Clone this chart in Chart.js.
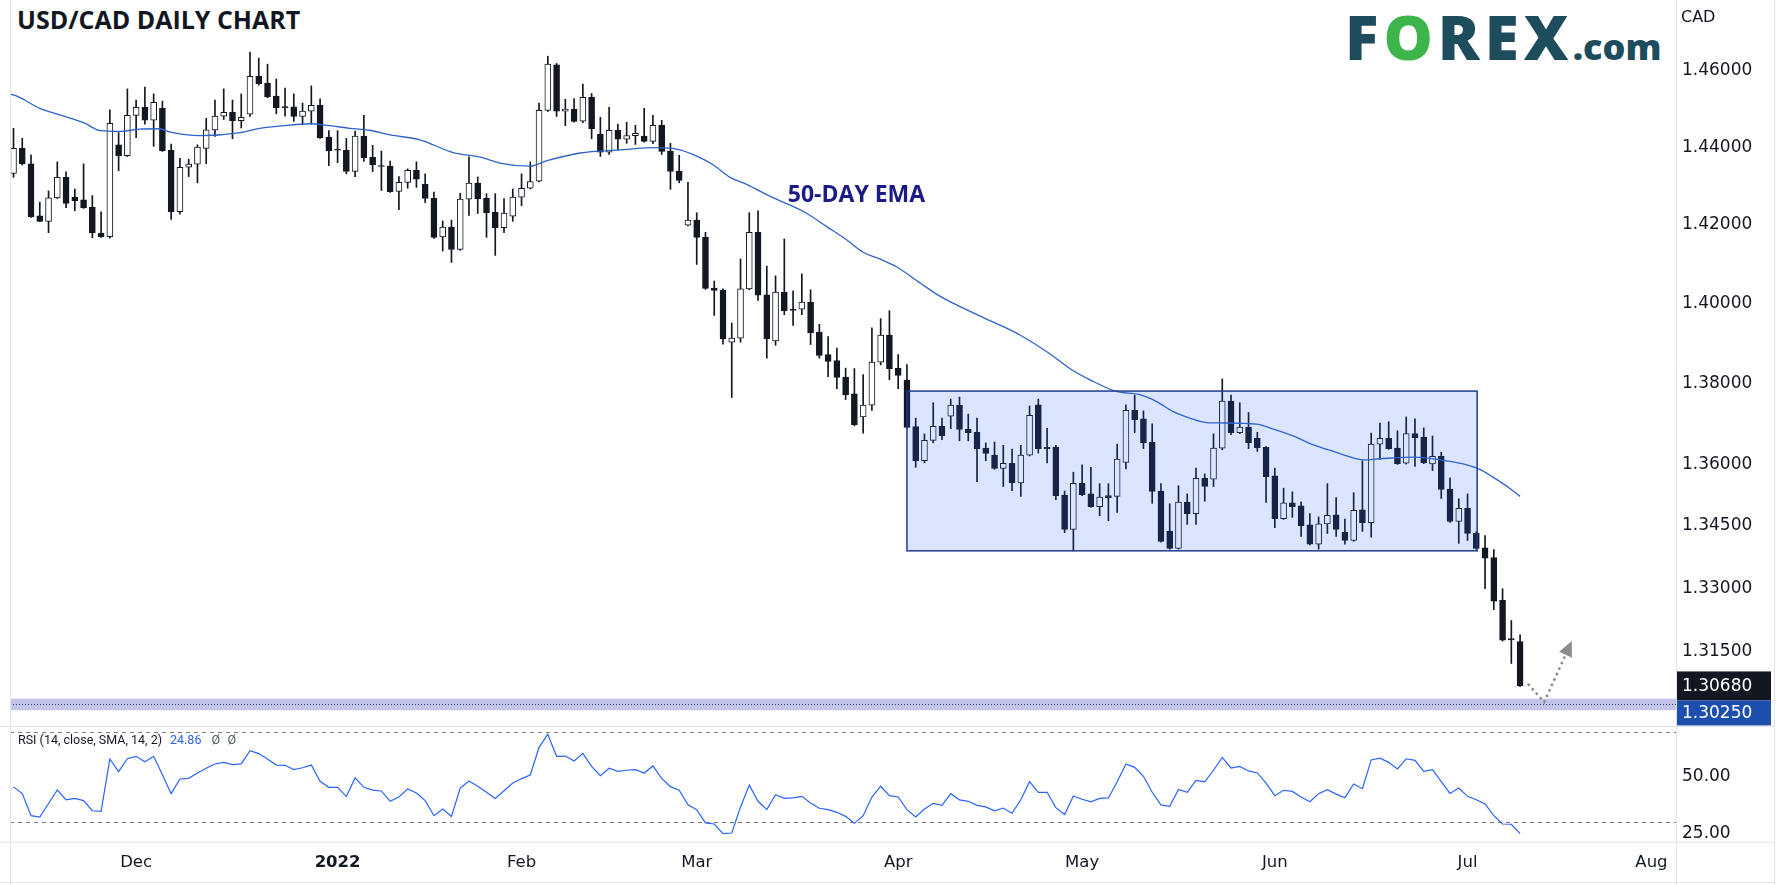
<!DOCTYPE html>
<html lang="en">
<head>
<meta charset="UTF-8">
<title>USD/CAD Daily Chart</title>
<script src="https://cdn.jsdelivr.net/npm/chart.js@4.4.1/dist/chart.umd.min.js"></script>
<style>
    body {
        margin: 0;
        background: #ffffff;
        width: 1783px;
        height: 885px;
        overflow: hidden;
        position: relative;
        font-family: 'DejaVu Sans', sans-serif;
    }
    #mainCanvas { position: absolute; left: 0; top: 0; }
    #rsiCanvas { position: absolute; left: 0; top: 726px; }
    .title {
        position: absolute;
        left: 17px;
        top: 7px;
        font: 700 25px/25px 'Open Sans', sans-serif;
        color: #131722;
    }
    .logo {
        position: absolute;
        left: 1345px;
        top: 5px;
        display: flex;
        align-items: baseline;
        font-family: 'Open Sans', sans-serif;
        font-weight: 800;
        color: #1d4c5c;
        line-height: 1;
    }
    .logo .big { font-size: 62px; letter-spacing: 5px; }
    .logo .green { color: #3cb54a; }
    .logo .com { font-size: 36px; margin-left: -1px; }
</style>
</head>
<body>

<div class="title">USD/CAD DAILY CHART</div>
<div class="logo"><span class="big">F</span><span class="big green">O</span><span class="big">REX</span><span class="com">.com</span></div>

<canvas id="mainCanvas" width="1783" height="726"></canvas>
<canvas id="rsiCanvas" width="1783" height="159"></canvas>

<script>
// daily bars, Nov 11 2021 -> Jul 11 2022 (index 0 = Nov 11)
const opens = [
    1.4332, 1.4397, 1.4357, 1.4223, 1.4209, 1.4269, 1.4322, 1.4271, 1.4264, 1.4245,
    1.4179, 1.4170, 1.4406, 1.4378, 1.4483, 1.4504, 1.4470, 1.4501, 1.4392, 1.4234,
    1.4348, 1.4356, 1.4397, 1.4445, 1.4481, 1.4491, 1.4469, 1.4486, 1.4585, 1.4567,
    1.4533, 1.4504, 1.4505, 1.4480, 1.4494, 1.4510, 1.4426, 1.4393, 1.4392, 1.4337,
    1.4429, 1.4374, 1.4351, 1.4351, 1.4286, 1.4309, 1.4340, 1.4304, 1.4268, 1.4169,
    1.4194, 1.4137, 1.4266, 1.4307, 1.4268, 1.4232, 1.4193, 1.4222, 1.4271, 1.4294,
    1.4312, 1.4496, 1.4615, 1.4494, 1.4499, 1.4468, 1.4530, 1.4434, 1.4387, 1.4444,
    1.4421, 1.4430, 1.4429, 1.4415, 1.4457, 1.4390, 1.4338, 1.4199, 1.4212, 1.4169,
    1.4039, 1.4034, 1.3903, 1.3913, 1.4037, 1.4181, 1.4022, 1.3906, 1.4029, 1.3986,
    1.3986, 1.4004, 1.3928, 1.3872, 1.3857, 1.3816, 1.3774, 1.3717, 1.3746, 1.3853,
    1.3921, 1.3838, 1.3808, 1.3693, 1.3609, 1.3659, 1.3694, 1.3719, 1.3746, 1.3687,
    1.3679, 1.3640, 1.3623, 1.3590, 1.3603, 1.3555, 1.3623, 1.3747, 1.3642, 1.3642,
    1.3525, 1.3442, 1.3554, 1.3528, 1.3497, 1.3524, 1.3522, 1.3605, 1.3733, 1.3712,
    1.3655, 1.3535, 1.3438, 1.3396, 1.3508, 1.3480, 1.3566, 1.3564, 1.3640, 1.3756,
    1.3678, 1.3692, 1.3664, 1.3642, 1.3572, 1.3468, 1.3506, 1.3499, 1.3453, 1.3406,
    1.3455, 1.3477, 1.3435, 1.3415, 1.3489, 1.3458, 1.3650, 1.3664, 1.3640, 1.3603,
    1.3676, 1.3667, 1.3601, 1.3620, 1.3540, 1.3461, 1.3493, 1.3433, 1.3397, 1.3374,
    1.3271, 1.3180, 1.3173
];
const highs = [
    1.4449, 1.4423, 1.4380, 1.4258, 1.4287, 1.4362, 1.4336, 1.4292, 1.4357, 1.4275,
    1.4233, 1.4497, 1.4438, 1.4552, 1.4523, 1.4557, 1.4539, 1.4520, 1.4408, 1.4371,
    1.4369, 1.4406, 1.4475, 1.4523, 1.4552, 1.4523, 1.4539, 1.4649, 1.4633, 1.4617,
    1.4578, 1.4554, 1.4539, 1.4515, 1.4560, 1.4526, 1.4443, 1.4443, 1.4423, 1.4442,
    1.4483, 1.4405, 1.4390, 1.4364, 1.4324, 1.4344, 1.4362, 1.4331, 1.4284, 1.4210,
    1.4212, 1.4281, 1.4375, 1.4323, 1.4280, 1.4280, 1.4267, 1.4292, 1.4331, 1.4362,
    1.4515, 1.4638, 1.4619, 1.4525, 1.4527, 1.4565, 1.4540, 1.4478, 1.4504, 1.4460,
    1.4465, 1.4457, 1.4501, 1.4483, 1.4470, 1.4410, 1.4379, 1.4309, 1.4231, 1.4181,
    1.4057, 1.4037, 1.3951, 1.4113, 1.4231, 1.4236, 1.4095, 1.4070, 1.4164, 1.4032,
    1.4075, 1.4035, 1.3948, 1.3917, 1.3888, 1.3838, 1.3837, 1.3822, 1.3939, 1.3962,
    1.3982, 1.3872, 1.3847, 1.3714, 1.3675, 1.3752, 1.3714, 1.3761, 1.3766, 1.3724,
    1.3714, 1.3653, 1.3655, 1.3647, 1.3638, 1.3647, 1.3744, 1.3761, 1.3689, 1.3647,
    1.3535, 1.3581, 1.3599, 1.3593, 1.3553, 1.3553, 1.3650, 1.3747, 1.3771, 1.3732,
    1.3700, 1.3553, 1.3504, 1.3548, 1.3528, 1.3591, 1.3577, 1.3675, 1.3811, 1.3771,
    1.3752, 1.3728, 1.3679, 1.3644, 1.3591, 1.3542, 1.3533, 1.3509, 1.3480, 1.3472,
    1.3553, 1.3519, 1.3467, 1.3531, 1.3609, 1.3677, 1.3702, 1.3705, 1.3683, 1.3717,
    1.3712, 1.3690, 1.3670, 1.3630, 1.3567, 1.3516, 1.3528, 1.3436, 1.3427, 1.3393,
    1.3299, 1.3223, 1.3189
];
const lows = [
    1.4322, 1.4354, 1.4219, 1.4208, 1.4180, 1.4267, 1.4244, 1.4236, 1.4242, 1.4167,
    1.4168, 1.4166, 1.4339, 1.4376, 1.4425, 1.4460, 1.4402, 1.4389, 1.4214, 1.4227,
    1.4324, 1.4308, 1.4357, 1.4428, 1.4472, 1.4422, 1.4450, 1.4480, 1.4562, 1.4529,
    1.4487, 1.4481, 1.4467, 1.4459, 1.4460, 1.4423, 1.4352, 1.4360, 1.4331, 1.4324,
    1.4363, 1.4337, 1.4288, 1.4283, 1.4239, 1.4294, 1.4296, 1.4257, 1.4165, 1.4133,
    1.4104, 1.4135, 1.4224, 1.4229, 1.4168, 1.4122, 1.4180, 1.4209, 1.4249, 1.4292,
    1.4310, 1.4493, 1.4480, 1.4456, 1.4465, 1.4464, 1.4422, 1.4376, 1.4381, 1.4392,
    1.4410, 1.4407, 1.4413, 1.4409, 1.4381, 1.4291, 1.4308, 1.4197, 1.4099, 1.4036,
    1.3970, 1.3898, 1.3765, 1.3903, 1.4035, 1.4008, 1.3863, 1.3895, 1.3972, 1.3945,
    1.3972, 1.3897, 1.3863, 1.3817, 1.3787, 1.3760, 1.3695, 1.3677, 1.3733, 1.3846,
    1.3809, 1.3787, 1.3689, 1.3593, 1.3604, 1.3653, 1.3661, 1.3688, 1.3658, 1.3658,
    1.3558, 1.3609, 1.3588, 1.3546, 1.3536, 1.3522, 1.3621, 1.3628, 1.3604, 1.3514,
    1.3434, 1.3390, 1.3524, 1.3495, 1.3475, 1.3463, 1.3483, 1.3589, 1.3678, 1.3639,
    1.3505, 1.3411, 1.3394, 1.3394, 1.3454, 1.3454, 1.3510, 1.3546, 1.3636, 1.3673,
    1.3676, 1.3639, 1.3632, 1.3507, 1.3446, 1.3466, 1.3471, 1.3425, 1.3404, 1.3394,
    1.3432, 1.3425, 1.3406, 1.3413, 1.3437, 1.3423, 1.3613, 1.3637, 1.3600, 1.3601,
    1.3595, 1.3602, 1.3585, 1.3517, 1.3459, 1.3408, 1.3415, 1.3394, 1.3299, 1.3249,
    1.3174, 1.3121, 1.3066
];
const closes = [
    1.4397, 1.4357, 1.4221, 1.4209, 1.4269, 1.4322, 1.4255, 1.4262, 1.4244, 1.4179,
    1.4170, 1.4462, 1.4378, 1.4483, 1.4504, 1.4470, 1.4517, 1.4391, 1.4234, 1.4348,
    1.4356, 1.4400, 1.4445, 1.4481, 1.4491, 1.4469, 1.4478, 1.4585, 1.4566, 1.4531,
    1.4503, 1.4503, 1.4480, 1.4494, 1.4509, 1.4425, 1.4391, 1.4392, 1.4337, 1.4429,
    1.4373, 1.4355, 1.4350, 1.4285, 1.4309, 1.4340, 1.4317, 1.4268, 1.4168, 1.4194,
    1.4137, 1.4266, 1.4307, 1.4267, 1.4231, 1.4193, 1.4230, 1.4271, 1.4294, 1.4311,
    1.4496, 1.4617, 1.4494, 1.4499, 1.4467, 1.4530, 1.4448, 1.4387, 1.4444, 1.4421,
    1.4430, 1.4436, 1.4415, 1.4457, 1.4389, 1.4337, 1.4314, 1.4212, 1.4168, 1.4038,
    1.4033, 1.3911, 1.3913, 1.4037, 1.4181, 1.4021, 1.3911, 1.4029, 1.3982, 1.3983,
    1.4004, 1.3927, 1.3870, 1.3855, 1.3815, 1.3772, 1.3698, 1.3746, 1.3853, 1.3921,
    1.3837, 1.3820, 1.3691, 1.3609, 1.3659, 1.3694, 1.3671, 1.3746, 1.3686, 1.3678,
    1.3639, 1.3627, 1.3590, 1.3603, 1.3555, 1.3623, 1.3721, 1.3639, 1.3639, 1.3524,
    1.3442, 1.3554, 1.3526, 1.3497, 1.3520, 1.3519, 1.3613, 1.3733, 1.3710, 1.3653,
    1.3534, 1.3413, 1.3396, 1.3508, 1.3480, 1.3566, 1.3546, 1.3640, 1.3756, 1.3678,
    1.3692, 1.3653, 1.3641, 1.3570, 1.3468, 1.3506, 1.3497, 1.3451, 1.3406, 1.3455,
    1.3476, 1.3442, 1.3415, 1.3488, 1.3458, 1.3650, 1.3664, 1.3639, 1.3602, 1.3676,
    1.3666, 1.3604, 1.3620, 1.3539, 1.3461, 1.3493, 1.3432, 1.3396, 1.3372, 1.3269,
    1.3176, 1.3177, 1.3068
];

// 50-day EMA at these bar positions
const emaAt = [
    -0.4, 0.7, 3.0, 5.3, 8.0, 9.9, 12.2, 14.4, 16.7, 17.9,
    21.3, 25.9, 28.1, 30.4, 33.8, 36.1, 38.4, 40.7, 43.0, 46.4,
    50.2, 53.3, 55.5, 59.0, 60.9, 64.7, 69.2, 73.4, 75.7, 78.0,
    79.9, 81.8, 83.7, 86.4, 90.2, 92.8, 95.1, 97.0, 98.9, 100.8,
    103.5, 105.8, 110.3, 114.9, 118.3, 120.8, 122.9, 125.9, 128.6, 130.5,
    132.4, 134.3, 136.2, 138.1, 141.9, 143.8, 146.1, 148.4, 150.7, 152.2,
    154.1, 156.0, 159.8, 161.7, 163.6, 165.9, 167.4, 168.9, 170.8, 172.0
];
const emaValues = [
    1.4539, 1.4530, 1.4501, 1.4484, 1.4464, 1.4443, 1.4441, 1.4447, 1.4448, 1.4439,
    1.4430, 1.4438, 1.4449, 1.4455, 1.4461, 1.4456, 1.4449, 1.4444, 1.4432, 1.4419,
    1.4386, 1.4374, 1.4359, 1.4351, 1.4365, 1.4385, 1.4393, 1.4399, 1.4395, 1.4377,
    1.4354, 1.4322, 1.4304, 1.4273, 1.4234, 1.4196, 1.4162, 1.4130, 1.4113, 1.4093,
    1.4052, 1.4018, 1.3969, 1.3921, 1.3874, 1.3834, 1.3809, 1.3780, 1.3772, 1.3755,
    1.3730, 1.3714, 1.3703, 1.3702, 1.3699, 1.3687, 1.3670, 1.3648, 1.3632, 1.3621,
    1.3611, 1.3614, 1.3618, 1.3615, 1.3609, 1.3599, 1.3588, 1.3569, 1.3542, 1.3522
];

// RSI(14), one value per bar
const rsiValues = [
    45.6, 42.6, 32.8, 32.2, 38.2, 44.2, 39.8, 40.5, 39.5, 35.0,
    34.7, 58.0, 52.4, 58.1, 59.2, 56.8, 59.2, 51.0, 42.6, 49.1,
    49.4, 51.8, 53.9, 55.8, 56.5, 55.5, 55.8, 61.7, 60.4, 58.0,
    55.3, 55.2, 53.3, 54.1, 55.3, 48.1, 45.4, 45.4, 41.3, 49.6,
    45.4, 44.2, 43.8, 39.2, 41.1, 44.7, 42.9, 39.5, 32.8, 35.8,
    32.5, 45.1, 48.2, 45.9, 43.2, 40.5, 43.9, 47.3, 49.3, 50.9,
    63.2, 69.0, 59.2, 59.3, 57.1, 60.5, 54.7, 50.6, 53.9, 52.5,
    53.0, 53.3, 51.8, 54.9, 49.4, 45.7, 44.1, 37.6, 35.5, 29.6,
    29.1, 24.8, 25.1, 36.7, 46.4, 39.2, 35.5, 42.1, 40.5, 40.7,
    41.4, 38.4, 36.1, 35.5, 34.3, 32.5, 29.4, 32.8, 41.1, 45.9,
    41.7, 41.1, 35.5, 32.2, 35.8, 38.3, 37.4, 42.6, 39.8, 39.2,
    37.4, 36.7, 35.0, 36.2, 33.9, 39.9, 47.9, 43.2, 43.2, 36.4,
    33.3, 41.6, 40.1, 39.0, 40.5, 40.7, 47.9, 55.8, 54.3, 50.3,
    43.2, 37.6, 37.0, 44.5, 43.2, 48.5, 47.8, 53.0, 58.7, 54.0,
    54.7, 52.7, 51.8, 47.3, 41.7, 44.1, 43.6, 41.1, 39.0, 42.6,
    44.4, 42.4, 40.8, 46.9, 44.8, 57.6, 58.4, 56.5, 53.6, 58.1,
    57.4, 52.5, 53.3, 47.9, 42.7, 45.1, 41.4, 39.9, 38.0, 32.8,
    29.1, 29.0, 24.86
];

const monthTicks = [14, 37, 58, 78, 101, 122, 144, 166, 187];
const monthLabels = ['Dec', '2022', 'Feb', 'Mar', 'Apr', 'May', 'Jun', 'Jul', 'Aug'];
const priceTicks = [1.46, 1.44, 1.42, 1.40, 1.38, 1.36, 1.345, 1.33, 1.315];
const rsiTicks = [50, 25];
const rsiLevels = [70, 30];

const supportLevel = 1.3025;
const supportBand = [1.3011, 1.3038];
const rangeBox = { from: 102, to: 167.1, top: 1.3781, bottom: 1.3390 };
const arrowPath = [[172.9, 1.3073], [174.75, 1.3030], [177.9, 1.3174]];
const emaLabelAt = [88.4, 1.4276];

const DARK = '#131722';
const LINE_GREY = '#e0e3eb';
const AXIS_FONT = { family: 'DejaVu Sans', size: 17 };

const xRange = { min: -0.4, max: 189.8 };
const AXIS_W = 107;

const wicks = highs.map((h, i) => ({ x: i, y: [lows[i], h] }));
const bodies = opens.map((o, i) => ({ x: i, y: [o, closes[i]] }));
const bodyFill = opens.map((o, i) => closes[i] > o ? '#ffffff' : DARK);
const emaPoints = emaAt.map((x, i) => ({ x: x, y: emaValues[i] }));
const rsiPoints = rsiValues.map((v, i) => ({ x: i, y: v }));

// keep the plot areas flush with the canvas edges
function fixY(scale) {
    scale.width = AXIS_W;
    scale.paddingTop = 0;
    scale.paddingBottom = 0;
}

const mainOverlay = {
    id: 'mainOverlay',
    afterDatasetsDraw(chart) {
        const { ctx, chartArea: a, scales: { x, y } } = chart;
        ctx.save();

        // consolidation box
        const bx0 = x.getPixelForValue(rangeBox.from);
        const bx1 = x.getPixelForValue(rangeBox.to);
        const by0 = y.getPixelForValue(rangeBox.top);
        const by1 = y.getPixelForValue(rangeBox.bottom);
        ctx.fillStyle = 'rgba(41, 98, 255, 0.17)';
        ctx.fillRect(bx0, by0, bx1 - bx0, by1 - by0);
        ctx.strokeStyle = '#1e3d8f';
        ctx.lineWidth = 1.5;
        ctx.strokeRect(bx0, by0, bx1 - bx0, by1 - by0);

        // support band
        const s0 = y.getPixelForValue(supportBand[1]);
        const s1 = y.getPixelForValue(supportBand[0]);
        ctx.fillStyle = 'rgba(120, 123, 200, 0.45)';
        ctx.fillRect(a.left, s0, a.right - a.left, s1 - s0);
        const sy = Math.round(y.getPixelForValue(supportLevel)) + 0.5;
        ctx.strokeStyle = '#2b3a9a';
        ctx.lineWidth = 1;
        ctx.setLineDash([1, 2]);
        ctx.beginPath();
        ctx.moveTo(a.left, sy);
        ctx.lineTo(a.right, sy);
        ctx.stroke();

        // dotted arrow
        const pts = arrowPath.map(p => [x.getPixelForValue(p[0]), y.getPixelForValue(p[1])]);
        ctx.strokeStyle = '#8c8c8c';
        ctx.lineWidth = 2.5;
        ctx.setLineDash([2.5, 3.5]);
        ctx.beginPath();
        ctx.moveTo(pts[0][0], pts[0][1]);
        ctx.lineTo(pts[1][0], pts[1][1]);
        const dx = pts[2][0] - pts[1][0], dy = pts[2][1] - pts[1][1];
        const len = Math.hypot(dx, dy), ux = dx / len, uy = dy / len;
        ctx.lineTo(pts[2][0] - ux * 12, pts[2][1] - uy * 12);
        ctx.stroke();
        ctx.setLineDash([]);
        ctx.fillStyle = '#8c8c8c';
        ctx.beginPath();
        ctx.moveTo(pts[2][0], pts[2][1]);
        ctx.lineTo(pts[2][0] - ux * 15 - uy * 7, pts[2][1] - uy * 15 + ux * 7);
        ctx.lineTo(pts[2][0] - ux * 15 + uy * 7, pts[2][1] - uy * 15 - ux * 7);
        ctx.closePath();
        ctx.fill();

        // EMA label
        ctx.font = '700 23px "Open Sans"';
        ctx.fillStyle = '#1b1a86';
        ctx.textBaseline = 'middle';
        ctx.textAlign = 'left';
        ctx.fillText('50-DAY EMA', x.getPixelForValue(emaLabelAt[0]), y.getPixelForValue(emaLabelAt[1]));
        ctx.restore();
    },
    afterDraw(chart) {
        const { ctx, chartArea: a, scales: { y } } = chart;
        ctx.save();
        // frame lines
        ctx.strokeStyle = LINE_GREY;
        ctx.lineWidth = 1;
        ctx.beginPath();
        ctx.moveTo(10.5, 0); ctx.lineTo(10.5, chart.height);
        ctx.moveTo(1774.5, 0); ctx.lineTo(1774.5, chart.height);
        ctx.stroke();

        // currency label
        ctx.font = '16px "DejaVu Sans"';
        ctx.fillStyle = DARK;
        ctx.textBaseline = 'middle';
        ctx.fillText('CAD', 1681, 18);

        // price tags on the axis
        const lastClose = closes[closes.length - 1];
        const ty = y.getPixelForValue(lastClose);
        const h1 = 29, h2 = 25;
        ctx.fillStyle = DARK;
        ctx.fillRect(a.right + 1, ty - h1 / 2, 94, h1);
        ctx.fillStyle = '#1c4fae';
        ctx.fillRect(a.right + 1, ty + h1 / 2, 94, h2);
        ctx.fillStyle = '#ffffff';
        ctx.font = '17px "DejaVu Sans"';
        ctx.fillText(lastClose.toFixed(5), 1682, ty + 1);
        ctx.fillText(supportLevel.toFixed(5), 1682, ty + h1 / 2 + h2 / 2 + 1);
        ctx.restore();
    }
};

new Chart(document.getElementById('mainCanvas'), {
    type: 'bar',
    data: {
        datasets: [
            {
                type: 'line',
                label: '50-day EMA',
                data: emaPoints,
                borderColor: '#2e63c9',
                borderWidth: 1.3,
                pointRadius: 0,
                cubicInterpolationMode: 'monotone',
                order: 0
            },
            {
                label: 'body',
                data: bodies,
                backgroundColor: bodyFill,
                borderColor: DARK,
                borderWidth: 1,
                borderSkipped: false,
                barThickness: 6,
                minBarLength: 1,
                grouped: false,
                order: 1
            },
            {
                label: 'wick',
                data: wicks,
                backgroundColor: DARK,
                barThickness: 1,
                grouped: false,
                order: 2
            }
        ]
    },
    options: {
        responsive: false,
        animation: false,
        layout: { padding: { left: 10, right: 0, top: 0, bottom: 0 } },
        plugins: { legend: { display: false }, tooltip: { enabled: false } },
        scales: {
            x: {
                type: 'linear',
                min: xRange.min,
                max: xRange.max,
                offset: false,
                display: false
            },
            y: {
                type: 'logarithmic',
                position: 'right',
                min: 1.2974,
                max: 1.4787,
                grid: { display: false, drawTicks: false },
                border: { display: true, color: LINE_GREY },
                afterFit: fixY,
                afterBuildTicks: s => { s.ticks = priceTicks.map(v => ({ value: v })); },
                ticks: {
                    padding: 6,
                    color: DARK,
                    font: AXIS_FONT,
                    callback: v => Number(v).toFixed(5)
                }
            }
        }
    },
    plugins: [mainOverlay]
});

const rsiOverlay = {
    id: 'rsiOverlay',
    beforeDatasetsDraw(chart) {
        const { ctx, chartArea: a, scales: { y } } = chart;
        ctx.save();
        ctx.strokeStyle = '#787b86';
        ctx.lineWidth = 1;
        ctx.setLineDash([4, 4]);
        rsiLevels.forEach(l => {
            const py = Math.round(y.getPixelForValue(l)) + 0.5;
            ctx.beginPath();
            ctx.moveTo(a.left, py);
            ctx.lineTo(a.right, py);
            ctx.stroke();
        });
        ctx.restore();
    },
    afterDraw(chart) {
        const { ctx, chartArea: a } = chart;
        ctx.save();
        ctx.strokeStyle = LINE_GREY;
        ctx.lineWidth = 1;
        ctx.beginPath();
        ctx.moveTo(0, 0.5); ctx.lineTo(1775, 0.5);
        ctx.moveTo(0, a.bottom + 0.5); ctx.lineTo(1775, a.bottom + 0.5);
        ctx.moveTo(0, chart.height - 2.5); ctx.lineTo(1775, chart.height - 2.5);
        ctx.moveTo(10.5, 0); ctx.lineTo(10.5, chart.height);
        ctx.moveTo(a.right + 0.5, 0); ctx.lineTo(a.right + 0.5, chart.height);
        ctx.moveTo(1774.5, 0); ctx.lineTo(1774.5, chart.height);
        ctx.stroke();

        // indicator caption
        ctx.textBaseline = 'middle';
        ctx.font = '12.5px Roboto';
        ctx.fillStyle = DARK;
        const cap = 'RSI (14, close, SMA, 14, 2)';
        ctx.fillText(cap, 18, 15);
        let cx = 18 + ctx.measureText(cap).width + 8;
        ctx.fillStyle = '#2962ff';
        const last = rsiValues[rsiValues.length - 1].toFixed(2);
        ctx.fillText(last, cx, 15);
        cx += ctx.measureText(last).width + 10;
        ctx.fillStyle = '#555a66';
        ctx.fillText('\u00d8', cx, 15);
        ctx.fillText('\u00d8', cx + 16, 15);
        ctx.restore();
    }
};

new Chart(document.getElementById('rsiCanvas'), {
    type: 'line',
    data: {
        datasets: [{
            label: 'RSI',
            data: rsiPoints,
            borderColor: '#2962ff',
            borderWidth: 1.2,
            pointRadius: 0,
            tension: 0
        }]
    },
    options: {
        responsive: false,
        animation: false,
        layout: { padding: { left: 10, right: 0, top: 0, bottom: 0 } },
        plugins: { legend: { display: false }, tooltip: { enabled: false } },
        scales: {
            x: {
                type: 'linear',
                min: xRange.min,
                max: xRange.max,
                offset: false,
                grid: { display: false, drawTicks: false },
                border: { display: false },
                afterFit: s => { s.height = 43.3; s.paddingLeft = 0; s.paddingRight = 0; },
                afterBuildTicks: s => { s.ticks = monthTicks.map(v => ({ value: v })); },
                ticks: {
                    padding: 11,
                    color: DARK,
                    maxRotation: 0,
                    autoSkip: false,
                    font: c => ({
                        family: 'DejaVu Sans',
                        size: 16.5,
                        weight: c.tick && monthLabels[monthTicks.indexOf(c.tick.value)] === '2022' ? 'bold' : 'normal'
                    }),
                    callback: v => monthLabels[monthTicks.indexOf(v)]
                }
            },
            y: {
                type: 'linear',
                position: 'right',
                min: 21.24,
                max: 72.67,
                grid: { display: false, drawTicks: false },
                border: { display: false },
                afterFit: fixY,
                afterBuildTicks: s => { s.ticks = rsiTicks.map(v => ({ value: v })); },
                ticks: {
                    padding: 6,
                    color: DARK,
                    font: AXIS_FONT,
                    callback: v => Number(v).toFixed(2)
                }
            }
        }
    },
    plugins: [rsiOverlay]
});
</script>
</body>
</html>
